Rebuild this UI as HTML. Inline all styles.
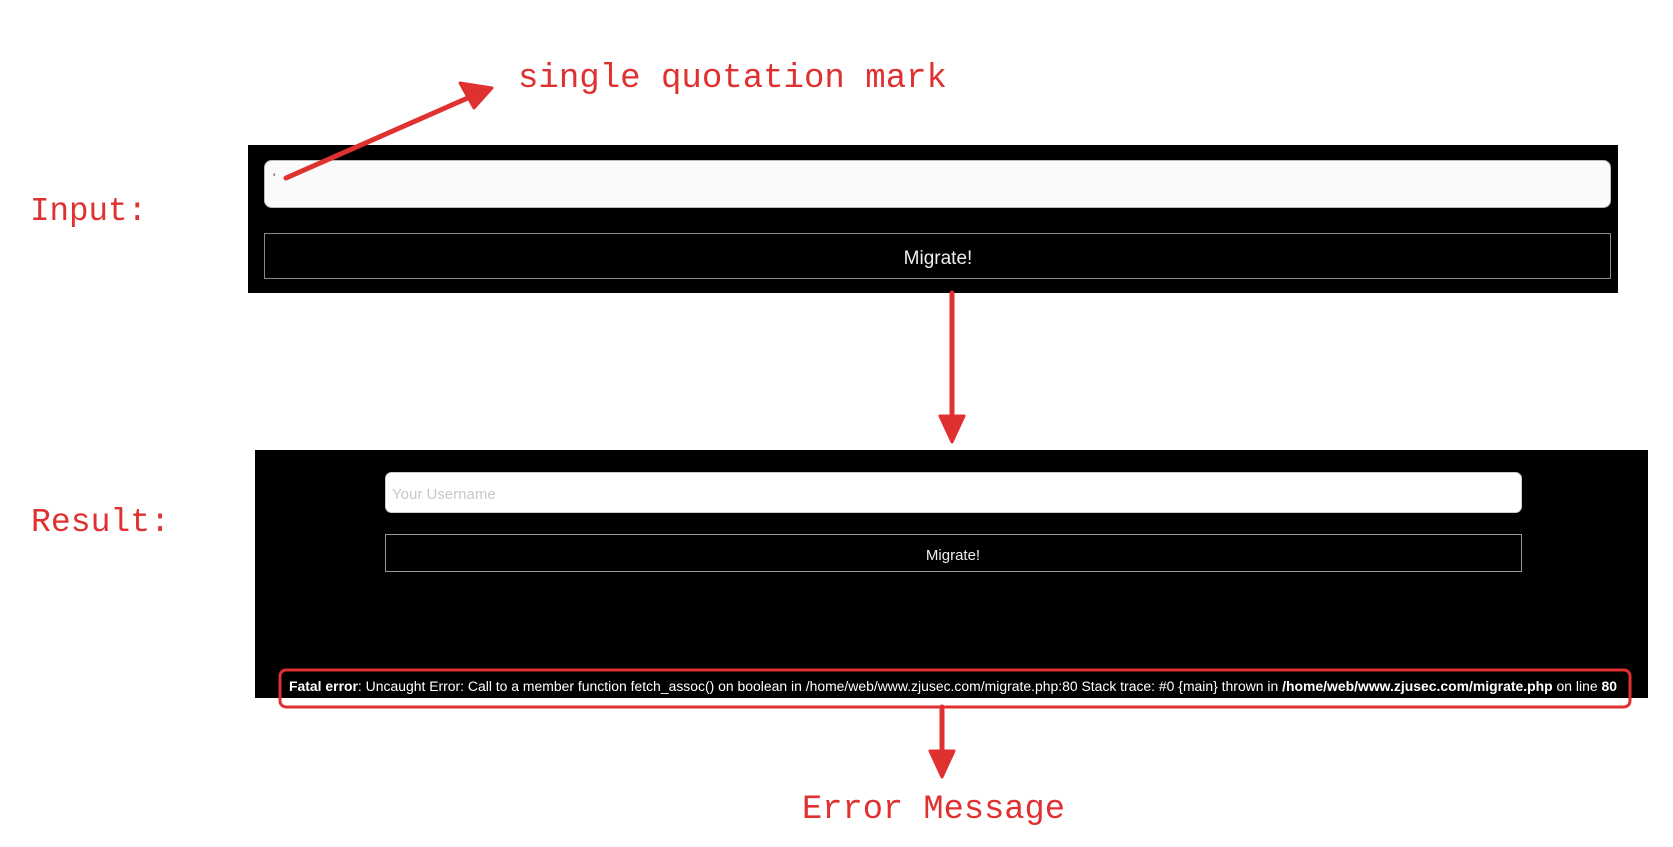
<!DOCTYPE html>
<html><head><meta charset="utf-8"><style>
html,body{margin:0;padding:0;background:#fff;}
svg{display:block;}
</style></head><body>
<svg width="1673" height="847" viewBox="0 0 1673 847" xmlns="http://www.w3.org/2000/svg">
<rect width="1673" height="847" fill="#fff"/>
<!-- Box 1 -->
<rect x="248" y="145" width="1370" height="148" fill="#000"/>
<rect x="264.5" y="160.5" width="1346" height="47" rx="7" fill="#fafafa" stroke="#bbb"/>
<text x="273" y="182" font-family="Liberation Sans, sans-serif" font-size="12" fill="#333">'</text>
<rect x="264.5" y="233.5" width="1346" height="45" fill="#000" stroke="#888"/>
<text x="938" y="264" text-anchor="middle" font-family="Liberation Sans, sans-serif" font-size="19" fill="#eee">Migrate!</text>
<!-- Box 2 -->
<rect x="255" y="450" width="1393" height="248" fill="#000"/>
<rect x="385.5" y="472.5" width="1136" height="40" rx="6" fill="#fff" stroke="#ccc"/>
<text x="392" y="499" font-family="Liberation Sans, sans-serif" font-size="15" fill="#c8c8c8">Your Username</text>
<rect x="385.5" y="534.5" width="1136" height="37" fill="#000" stroke="#999"/>
<text x="953" y="560" text-anchor="middle" font-family="Liberation Sans, sans-serif" font-size="15" fill="#eee">Migrate!</text>
<text x="289" y="691" font-family="Liberation Sans, sans-serif" font-size="13.5" fill="#fff" textLength="1328" lengthAdjust="spacingAndGlyphs"><tspan font-weight="bold">Fatal error</tspan>: Uncaught Error: Call to a member function fetch_assoc() on boolean in /home/web/www.zjusec.com/migrate.php:80 Stack trace: #0 {main} thrown in <tspan font-weight="bold">/home/web/www.zjusec.com/migrate.php</tspan> on line <tspan font-weight="bold">80</tspan></text>
<rect x="280" y="670" width="1350" height="37" rx="6" fill="none" stroke="#e03131" stroke-width="3"/>
<!-- Labels -->
<g font-family="Liberation Mono, monospace" fill="#e03131">
<text x="518" y="87" font-size="34" textLength="429" lengthAdjust="spacingAndGlyphs">single quotation mark</text>
<text x="30" y="220" font-size="33" textLength="117" lengthAdjust="spacingAndGlyphs">Input:</text>
<text x="31" y="531" font-size="33" textLength="139" lengthAdjust="spacingAndGlyphs">Result:</text>
<text x="802" y="818" font-size="34" textLength="263" lengthAdjust="spacingAndGlyphs">Error Message</text>
</g>
<!-- Arrows -->
<g stroke="#e03131" stroke-width="5" fill="#e03131" stroke-linecap="round">
<line x1="286" y1="178" x2="470" y2="97"/>
<polygon points="492,88 460,83 474,108" stroke-width="3" stroke-linejoin="round"/>
<line x1="952" y1="293" x2="952" y2="420"/>
<polygon points="940,416 964,416 952,442" stroke-width="3" stroke-linejoin="round"/>
<line x1="942" y1="707" x2="942" y2="752"/>
<polygon points="930,751 954,751 942,777" stroke-width="3" stroke-linejoin="round"/>
</g>
</svg>
</body></html>
